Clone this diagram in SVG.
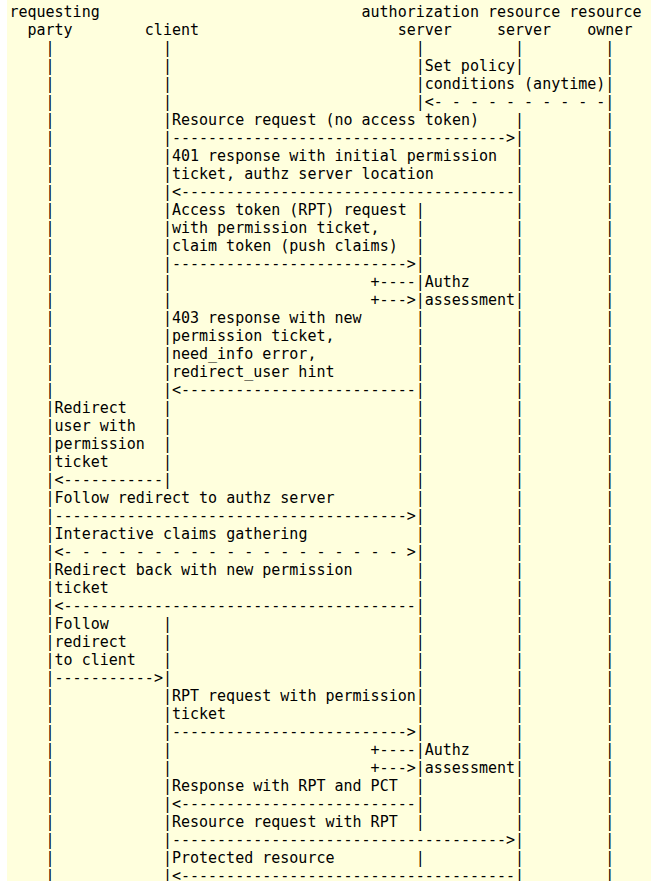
<svg xmlns="http://www.w3.org/2000/svg" width="651" height="881" viewBox="0 0 651 881" xml:space="preserve">
<style>
text { font-family: "DejaVu Sans Mono", "Liberation Mono", monospace; font-size: 15px; fill: #000; white-space: pre; }
</style>
<rect x="0" y="0" width="651" height="881" fill="#ffffff"/>
<rect id="background" x="7" y="0" width="644" height="881" fill="#ffffdd"/>
<g id="diagram">
<g id="requesting-party">
<text x="9.4" y="17">requesting</text>
<text x="27.46" y="35">party</text>
<text><tspan x="45.52" y="53">|</tspan><tspan x="45.52" y="71">|</tspan><tspan x="45.52" y="89">|</tspan><tspan x="45.52" y="107">|</tspan><tspan x="45.52" y="125">|</tspan><tspan x="45.52" y="143">|</tspan><tspan x="45.52" y="161">|</tspan><tspan x="45.52" y="179">|</tspan><tspan x="45.52" y="197">|</tspan><tspan x="45.52" y="215">|</tspan><tspan x="45.52" y="233">|</tspan><tspan x="45.52" y="251">|</tspan><tspan x="45.52" y="269">|</tspan><tspan x="45.52" y="287">|</tspan><tspan x="45.52" y="305">|</tspan><tspan x="45.52" y="323">|</tspan><tspan x="45.52" y="341">|</tspan><tspan x="45.52" y="359">|</tspan><tspan x="45.52" y="377">|</tspan><tspan x="45.52" y="395">|</tspan><tspan x="45.52" y="413">|</tspan><tspan x="45.52" y="431">|</tspan><tspan x="45.52" y="449">|</tspan><tspan x="45.52" y="467">|</tspan><tspan x="45.52" y="485">|</tspan><tspan x="45.52" y="503">|</tspan><tspan x="45.52" y="521">|</tspan><tspan x="45.52" y="539">|</tspan><tspan x="45.52" y="557">|</tspan><tspan x="45.52" y="575">|</tspan><tspan x="45.52" y="593">|</tspan><tspan x="45.52" y="611">|</tspan><tspan x="45.52" y="629">|</tspan><tspan x="45.52" y="647">|</tspan><tspan x="45.52" y="665">|</tspan><tspan x="45.52" y="683">|</tspan><tspan x="45.52" y="701">|</tspan><tspan x="45.52" y="719">|</tspan><tspan x="45.52" y="737">|</tspan><tspan x="45.52" y="755">|</tspan><tspan x="45.52" y="773">|</tspan><tspan x="45.52" y="791">|</tspan><tspan x="45.52" y="809">|</tspan><tspan x="45.52" y="827">|</tspan><tspan x="45.52" y="845">|</tspan><tspan x="45.52" y="863">|</tspan><tspan x="45.52" y="881">|</tspan></text>
</g>

<g id="client">
<text x="144.84" y="35">client</text>
<text><tspan x="162.9" y="53">|</tspan><tspan x="162.9" y="71">|</tspan><tspan x="162.9" y="89">|</tspan><tspan x="162.9" y="107">|</tspan><tspan x="162.9" y="125">|</tspan><tspan x="162.9" y="143">|</tspan><tspan x="162.9" y="161">|</tspan><tspan x="162.9" y="179">|</tspan><tspan x="162.9" y="197">|</tspan><tspan x="162.9" y="215">|</tspan><tspan x="162.9" y="233">|</tspan><tspan x="162.9" y="251">|</tspan><tspan x="162.9" y="269">|</tspan><tspan x="162.9" y="287">|</tspan><tspan x="162.9" y="305">|</tspan><tspan x="162.9" y="323">|</tspan><tspan x="162.9" y="341">|</tspan><tspan x="162.9" y="359">|</tspan><tspan x="162.9" y="377">|</tspan><tspan x="162.9" y="395">|</tspan><tspan x="162.9" y="413">|</tspan><tspan x="162.9" y="431">|</tspan><tspan x="162.9" y="449">|</tspan><tspan x="162.9" y="467">|</tspan><tspan x="162.9" y="485">|</tspan><tspan x="162.9" y="629">|</tspan><tspan x="162.9" y="647">|</tspan><tspan x="162.9" y="665">|</tspan><tspan x="162.9" y="683">|</tspan><tspan x="162.9" y="701">|</tspan><tspan x="162.9" y="719">|</tspan><tspan x="162.9" y="737">|</tspan><tspan x="162.9" y="755">|</tspan><tspan x="162.9" y="773">|</tspan><tspan x="162.9" y="791">|</tspan><tspan x="162.9" y="809">|</tspan><tspan x="162.9" y="827">|</tspan><tspan x="162.9" y="845">|</tspan><tspan x="162.9" y="863">|</tspan><tspan x="162.9" y="881">|</tspan></text>
</g>

<g id="authorization-server">
<text x="361.54" y="17">authorization</text>
<text x="397.66" y="35">server</text>
<text><tspan x="415.72" y="53">|</tspan><tspan x="415.72" y="71">|</tspan><tspan x="415.72" y="89">|</tspan><tspan x="415.72" y="107">|</tspan><tspan x="415.72" y="215">|</tspan><tspan x="415.72" y="233">|</tspan><tspan x="415.72" y="251">|</tspan><tspan x="415.72" y="269">|</tspan><tspan x="415.72" y="287">|</tspan><tspan x="415.72" y="305">|</tspan><tspan x="415.72" y="323">|</tspan><tspan x="415.72" y="341">|</tspan><tspan x="415.72" y="359">|</tspan><tspan x="415.72" y="377">|</tspan><tspan x="415.72" y="395">|</tspan><tspan x="415.72" y="413">|</tspan><tspan x="415.72" y="431">|</tspan><tspan x="415.72" y="449">|</tspan><tspan x="415.72" y="467">|</tspan><tspan x="415.72" y="485">|</tspan><tspan x="415.72" y="503">|</tspan><tspan x="415.72" y="521">|</tspan><tspan x="415.72" y="539">|</tspan><tspan x="415.72" y="557">|</tspan><tspan x="415.72" y="575">|</tspan><tspan x="415.72" y="593">|</tspan><tspan x="415.72" y="611">|</tspan><tspan x="415.72" y="629">|</tspan><tspan x="415.72" y="647">|</tspan><tspan x="415.72" y="665">|</tspan><tspan x="415.72" y="683">|</tspan><tspan x="415.72" y="701">|</tspan><tspan x="415.72" y="719">|</tspan><tspan x="415.72" y="737">|</tspan><tspan x="415.72" y="755">|</tspan><tspan x="415.72" y="773">|</tspan><tspan x="415.72" y="791">|</tspan><tspan x="415.72" y="809">|</tspan><tspan x="415.72" y="827">|</tspan><tspan x="415.72" y="863">|</tspan></text>
<text x="424.75" y="287">Authz</text>
<text x="424.75" y="305">assessment</text>
<text x="424.75" y="755">Authz</text>
<text x="424.75" y="773">assessment</text>
</g>

<g id="resource-server">
<text x="487.95" y="17">resource</text>
<text x="496.98" y="35">server</text>
<text><tspan x="515.04" y="53">|</tspan><tspan x="515.04" y="71">|</tspan><tspan x="515.04" y="125">|</tspan><tspan x="515.04" y="143">|</tspan><tspan x="515.04" y="161">|</tspan><tspan x="515.04" y="179">|</tspan><tspan x="515.04" y="197">|</tspan><tspan x="515.04" y="215">|</tspan><tspan x="515.04" y="233">|</tspan><tspan x="515.04" y="251">|</tspan><tspan x="515.04" y="269">|</tspan><tspan x="515.04" y="287">|</tspan><tspan x="515.04" y="305">|</tspan><tspan x="515.04" y="323">|</tspan><tspan x="515.04" y="341">|</tspan><tspan x="515.04" y="359">|</tspan><tspan x="515.04" y="377">|</tspan><tspan x="515.04" y="395">|</tspan><tspan x="515.04" y="413">|</tspan><tspan x="515.04" y="431">|</tspan><tspan x="515.04" y="449">|</tspan><tspan x="515.04" y="467">|</tspan><tspan x="515.04" y="485">|</tspan><tspan x="515.04" y="503">|</tspan><tspan x="515.04" y="521">|</tspan><tspan x="515.04" y="539">|</tspan><tspan x="515.04" y="557">|</tspan><tspan x="515.04" y="575">|</tspan><tspan x="515.04" y="593">|</tspan><tspan x="515.04" y="611">|</tspan><tspan x="515.04" y="629">|</tspan><tspan x="515.04" y="647">|</tspan><tspan x="515.04" y="665">|</tspan><tspan x="515.04" y="683">|</tspan><tspan x="515.04" y="701">|</tspan><tspan x="515.04" y="719">|</tspan><tspan x="515.04" y="737">|</tspan><tspan x="515.04" y="755">|</tspan><tspan x="515.04" y="773">|</tspan><tspan x="515.04" y="791">|</tspan><tspan x="515.04" y="809">|</tspan><tspan x="515.04" y="827">|</tspan><tspan x="515.04" y="845">|</tspan><tspan x="515.04" y="863">|</tspan><tspan x="515.04" y="881">|</tspan></text>
</g>

<g id="resource-owner">
<text x="569.22" y="17">resource</text>
<text x="587.28" y="35">owner</text>
<text><tspan x="605.33" y="53">|</tspan><tspan x="605.33" y="71">|</tspan><tspan x="605.33" y="89">|</tspan><tspan x="605.33" y="107">|</tspan><tspan x="605.33" y="125">|</tspan><tspan x="605.33" y="143">|</tspan><tspan x="605.33" y="161">|</tspan><tspan x="605.33" y="179">|</tspan><tspan x="605.33" y="197">|</tspan><tspan x="605.33" y="215">|</tspan><tspan x="605.33" y="233">|</tspan><tspan x="605.33" y="251">|</tspan><tspan x="605.33" y="269">|</tspan><tspan x="605.33" y="287">|</tspan><tspan x="605.33" y="305">|</tspan><tspan x="605.33" y="323">|</tspan><tspan x="605.33" y="341">|</tspan><tspan x="605.33" y="359">|</tspan><tspan x="605.33" y="377">|</tspan><tspan x="605.33" y="395">|</tspan><tspan x="605.33" y="413">|</tspan><tspan x="605.33" y="431">|</tspan><tspan x="605.33" y="449">|</tspan><tspan x="605.33" y="467">|</tspan><tspan x="605.33" y="485">|</tspan><tspan x="605.33" y="503">|</tspan><tspan x="605.33" y="521">|</tspan><tspan x="605.33" y="539">|</tspan><tspan x="605.33" y="557">|</tspan><tspan x="605.33" y="575">|</tspan><tspan x="605.33" y="593">|</tspan><tspan x="605.33" y="611">|</tspan><tspan x="605.33" y="629">|</tspan><tspan x="605.33" y="647">|</tspan><tspan x="605.33" y="665">|</tspan><tspan x="605.33" y="683">|</tspan><tspan x="605.33" y="701">|</tspan><tspan x="605.33" y="719">|</tspan><tspan x="605.33" y="737">|</tspan><tspan x="605.33" y="755">|</tspan><tspan x="605.33" y="773">|</tspan><tspan x="605.33" y="791">|</tspan><tspan x="605.33" y="809">|</tspan><tspan x="605.33" y="827">|</tspan><tspan x="605.33" y="845">|</tspan><tspan x="605.33" y="863">|</tspan><tspan x="605.33" y="881">|</tspan></text>
</g>

<g id="connectors">
<text x="424.75" y="71">Set policy</text>
<text x="424.75" y="89">conditions (anytime)</text>
<text x="424.75" y="107">&lt;- - - - - - - - - -</text>

<text x="171.93" y="125">Resource request (no access token)</text>
<text x="171.93" y="143">-------------------------------------&gt;</text>

<text x="171.93" y="161">401 response with initial permission</text>
<text x="171.93" y="179">ticket, authz server location</text>
<text x="171.93" y="197">&lt;-------------------------------------</text>

<text x="171.93" y="215">Access token (RPT) request</text>
<text x="171.93" y="233">with permission ticket,</text>
<text x="171.93" y="251">claim token (push claims)</text>
<text x="171.93" y="269">--------------------------&gt;</text>

<text x="370.57" y="287">+----</text>
<text x="370.57" y="305">+---&gt;</text>

<text x="171.93" y="323">403 response with new</text>
<text x="171.93" y="341">permission ticket,</text>
<text x="171.93" y="359">need_info error,</text>
<text x="171.93" y="377">redirect_user hint</text>
<text x="171.93" y="395">&lt;--------------------------</text>

<text x="54.55" y="413">Redirect</text>
<text x="54.55" y="431">user with</text>
<text x="54.55" y="449">permission</text>
<text x="54.55" y="467">ticket</text>
<text x="54.55" y="485">&lt;-----------</text>

<text x="54.55" y="503">Follow redirect to authz server</text>
<text x="54.55" y="521">---------------------------------------&gt;</text>

<text x="54.55" y="539">Interactive claims gathering</text>
<text x="54.55" y="557">&lt;- - - - - - - - - - - - - - - - - - - &gt;</text>

<text x="54.55" y="575">Redirect back with new permission</text>
<text x="54.55" y="593">ticket</text>
<text x="54.55" y="611">&lt;---------------------------------------</text>

<text x="54.55" y="629">Follow</text>
<text x="54.55" y="647">redirect</text>
<text x="54.55" y="665">to client</text>
<text x="54.55" y="683">-----------&gt;</text>

<text x="171.93" y="701">RPT request with permission</text>
<text x="171.93" y="719">ticket</text>
<text x="171.93" y="737">--------------------------&gt;</text>

<text x="370.57" y="755">+----</text>
<text x="370.57" y="773">+---&gt;</text>

<text x="171.93" y="791">Response with RPT and PCT</text>
<text x="171.93" y="809">&lt;--------------------------</text>

<text x="171.93" y="827">Resource request with RPT</text>
<text x="171.93" y="845">-------------------------------------&gt;</text>

<text x="171.93" y="863">Protected resource</text>
<text x="171.93" y="881">&lt;-------------------------------------</text>
</g>
</g>
</svg>
